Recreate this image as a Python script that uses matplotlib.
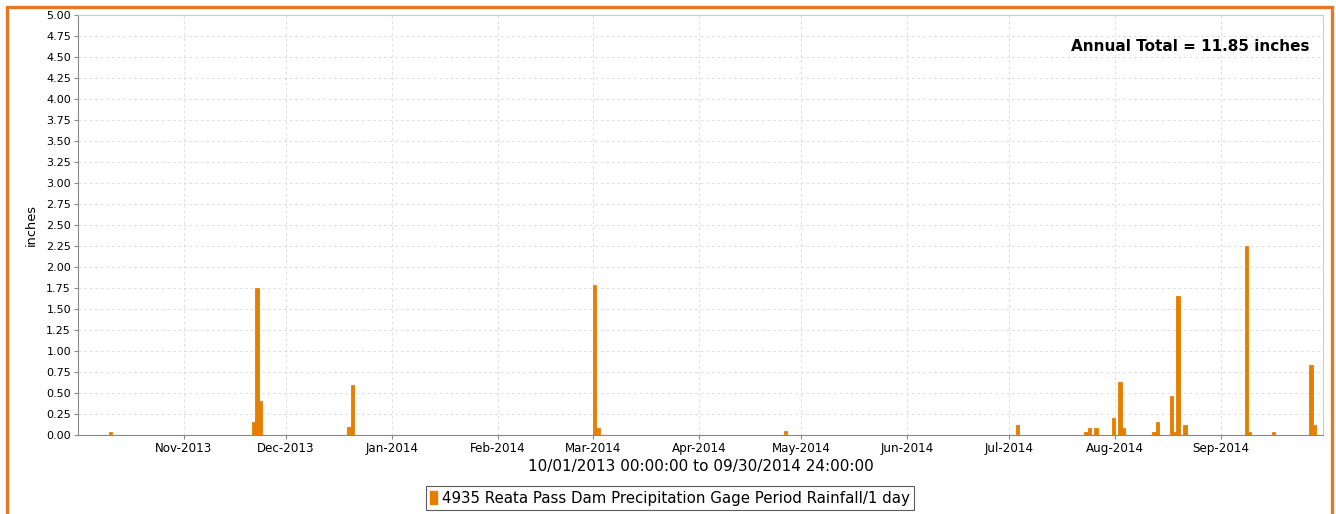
import matplotlib
matplotlib.use("Agg")
import matplotlib.pyplot as plt
import matplotlib.dates as mdates
from matplotlib.patches import Rectangle
import pandas as pd

dates = ["2013-10-10", "2013-11-21", "2013-11-22", "2013-11-23", "2013-12-19", "2013-12-20",
         "2014-03-01", "2014-03-02", "2014-04-26", "2014-07-03", "2014-07-23", "2014-07-24",
         "2014-07-26", "2014-07-31", "2014-08-02", "2014-08-03", "2014-08-12", "2014-08-13",
         "2014-08-17", "2014-08-18", "2014-08-19", "2014-08-21", "2014-09-08", "2014-09-09",
         "2014-09-16", "2014-09-27", "2014-09-28"]
rain = [0.04, 0.16, 1.75, 0.40, 0.09, 0.59,
        1.79, 0.08, 0.05, 0.12, 0.04, 0.08,
        0.08, 0.20, 0.63, 0.08, 0.04, 0.16,
        0.47, 0.04, 1.65, 0.12, 2.25, 0.04,
        0.04, 0.83, 0.12]
y_ticks = [i * 0.25 for i in range(21)]
series_label = "4935 Reata Pass Dam Precipitation Gage Period Rainfall/1 day"
x_label = "10/01/2013 00:00:00 to 09/30/2014 24:00:00"
annual_text = "Annual Total = 11.85 inches"

bar_color = "#E67E00"
W, H = 1336, 514
fig = plt.figure(figsize=(W / 100, H / 100), dpi=100)
ax = fig.add_axes([78 / W, (H - 435) / H, (1323 - 78) / W, (435 - 15) / H])

x = pd.to_datetime(dates)
ax.bar(x, rain, width=1.0, align="edge", color=bar_color, edgecolor=bar_color,
       linewidth=0.6, zorder=3)

ax.set_xlim(pd.Timestamp("2013-10-01"), pd.Timestamp("2014-10-01"))
ax.set_ylim(0, 5)
ax.set_yticks(y_ticks)
ax.yaxis.set_major_formatter(matplotlib.ticker.FormatStrFormatter("%.2f"))
month_ticks = pd.date_range("2013-11-01", "2014-09-01", freq="MS")
ax.set_xticks(month_ticks)
ax.xaxis.set_major_formatter(mdates.DateFormatter("%b-%Y"))

ax.grid(True, color="#e0e0e0", linestyle=(0, (2.5, 2.5)), linewidth=0.8, zorder=0)
ax.tick_params(axis="y", labelsize=8, length=3, color="#888888", width=0.8, pad=2)
ax.tick_params(axis="x", labelsize=8.6, length=3, color="#888888", width=0.8, pad=2)
for s in ["left", "bottom"]:
    ax.spines[s].set_color("#888888")
for s in ["top", "right"]:
    ax.spines[s].set_color("#cccccc")

ax.set_ylabel("inches", fontsize=9.3, labelpad=6)
ax.set_xlabel(x_label, fontsize=11, labelpad=3)

ax.text(0.989, 0.925, annual_text, transform=ax.transAxes, ha="right", va="center",
        fontsize=11, fontweight="bold")

leg = fig.legend(handles=[Rectangle((0, 0), 1, 1, color=bar_color)], labels=[series_label],
                 loc="center", bbox_to_anchor=(670 / W, (H - 498) / H), fontsize=10.8,
                 frameon=True, fancybox=False, edgecolor="#333333", handlelength=0.45,
                 handleheight=1.0, handletextpad=0.3, borderpad=0.3, borderaxespad=0)
leg.get_frame().set_linewidth(0.8)

fig.patches.append(Rectangle((6.5 / W, -0.05), (1331.5 - 6.5) / W, (H - 6.5) / H + 0.05,
                             transform=fig.transFigure, fill=False, edgecolor="#E87722",
                             linewidth=2.4, zorder=10))

fig.savefig("out.png", dpi=100)
